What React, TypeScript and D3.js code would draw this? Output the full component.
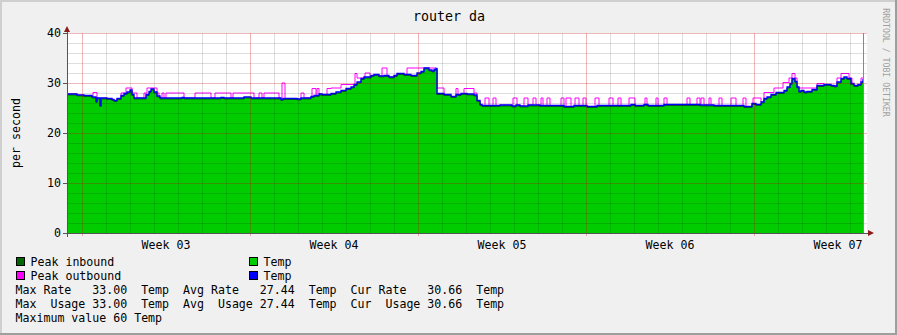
import React from 'react';
import * as d3 from 'd3';

// ---- data (time in hours from left edge of plot; values in "per second") ----
const inHours = [0, 10, 17, 25, 29, 30, 33, 34, 40, 45, 47, 50, 54, 57, 60, 63, 65, 67, 79, 82, 84, 87, 90, 93, 115, 117, 154, 157, 177, 184, 214, 216, 230, 234, 244, 247, 252, 255, 264, 269, 274, 279, 284, 287, 290, 294, 297, 304, 307, 312, 317, 322, 327, 330, 337, 344, 350, 354, 357, 362, 365, 367, 369, 370, 377, 384, 389, 394, 400, 407, 410, 413, 415, 433, 445, 449, 453, 461, 473, 497, 507, 520, 530, 564, 568, 577, 581, 597, 633, 647, 677, 685, 689, 694, 697, 700, 704, 709, 717, 720, 723, 725, 728, 730, 732, 734, 737, 740, 745, 750, 757, 764, 767, 770, 774, 777, 780, 784, 787, 791, 794, 796];
const inVals = [27.8, 27.6, 27.5, 27.2, 26.3, 27.0, 25.5, 27.0, 26.9, 26.7, 26.5, 26.9, 27.5, 27.9, 28.2, 28.6, 27.7, 27.0, 27.7, 28.3, 28.8, 28.2, 27.4, 27.0, 27.1, 27.0, 27.1, 27.0, 27.2, 27.0, 26.7, 26.9, 26.8, 27.0, 27.3, 27.5, 27.8, 27.7, 27.9, 28.2, 28.5, 28.9, 29.2, 29.7, 30.2, 30.9, 31.2, 31.5, 31.7, 31.4, 31.5, 31.2, 31.5, 31.9, 31.7, 31.5, 32.0, 32.3, 33.0, 32.6, 32.4, 32.7, 32.9, 27.9, 27.7, 27.3, 27.7, 27.9, 27.8, 27.6, 26.5, 25.7, 25.5, 25.6, 25.4, 25.6, 25.4, 25.6, 25.5, 25.3, 25.5, 25.3, 25.5, 25.7, 25.5, 25.7, 25.5, 25.7, 25.6, 25.5, 25.3, 25.9, 25.7, 26.2, 26.9, 27.2, 27.7, 28.1, 28.5, 29.2, 29.9, 30.9, 30.3, 29.2, 28.3, 28.5, 28.2, 28.3, 28.7, 29.5, 29.7, 29.5, 29.4, 30.2, 30.9, 31.2, 30.9, 29.9, 29.5, 29.7, 30.2, 30.66];
const endHour = 797;

const peakStart = [26, 54, 59, 65, 77, 80, 90, 95, 99, 128, 148, 166, 192, 197, 215, 234, 245, 250, 260, 264, 274, 288, 290, 298, 315, 340, 369, 389, 397, 407, 418, 426, 446, 457, 466, 474, 480, 494, 499, 508, 516, 528, 542, 551, 562, 578, 589, 597, 620, 630, 634, 642, 652, 664, 676, 686, 697, 707, 716, 722, 725, 728, 730, 750, 770, 774, 782, 794];
const peakEnd = [30, 59, 65, 70, 80, 90, 92, 97, 117, 144, 164, 187, 195, 212, 218, 237, 249, 252, 264, 274, 288, 290, 297, 303, 320, 369, 377, 391, 407, 410, 422, 429, 450, 461, 469, 476, 483, 497, 504, 512, 519, 532, 546, 554, 568, 580, 591, 600, 623, 633, 637, 644, 655, 669, 679, 694, 707, 716, 722, 725, 728, 730, 750, 757, 774, 782, 785, 797];
const peakVal = [28.1, 28.0, 29.0, 28.0, 28.0, 29.0, 28.0, 28.0, 28.0, 28.0, 28.0, 28.0, 28.0, 28.0, 30.0, 28.0, 28.9, 28.9, 28.9, 29.0, 29.7, 31.9, 31.0, 32.0, 33.0, 33.0, 29.0, 28.9, 28.9, 28.0, 27.0, 27.0, 27.0, 27.0, 27.0, 27.0, 27.0, 27.0, 27.0, 27.0, 27.0, 27.0, 27.0, 27.0, 27.0, 27.0, 27.0, 27.0, 27.0, 27.0, 27.0, 27.0, 27.0, 27.0, 27.0, 27.0, 28.1, 29.0, 30.1, 31.0, 31.9, 31.0, 29.0, 29.9, 31.0, 31.9, 31.0, 31.0];

const yTicks = [0, 10, 20, 30, 40];
const weekLabels = ['Week 03', 'Week 04', 'Week 05', 'Week 06', 'Week 07'];
const firstWeekHour = 15;
const hoursPerWeek = 168;
const hoursPerDay = 24;
const totalHours = 800;
const nowHour = 798;

const title = 'router da';
const yLabel = 'per second';
const sideText = 'RRDTOOL / TOBI OETIKER';
const legendItems = [
  { label: 'Peak inbound', color: '#006600', col: 0, row: 0 },
  { label: 'Temp', color: '#00CC00', col: 1, row: 0 },
  { label: 'Peak outbound', color: '#FF00FF', col: 0, row: 1 },
  { label: 'Temp', color: '#0000FF', col: 1, row: 1 },
];
const statLines = [
  'Max Rate   33.00  Temp  Avg Rate   27.44  Temp  Cur Rate   30.66  Temp',
  'Max  Usage 33.00  Temp  Avg  Usage 27.44  Temp  Cur  Usage 30.66  Temp',
  'Maximum value 60 Temp',
];

const W = 897;
const H = 335;
const FONT = '"DejaVu Sans Mono", monospace';

type P = { h: number; v: number };

export default function App() {
  const x = d3.scaleLinear().domain([0, totalHours]).range([67, 867]);
  const y = d3.scaleLinear().domain([0, 40]).range([233, 33]);

  const inSeries: P[] = inHours.map((h, i) => ({ h, v: inVals[i] }));
  inSeries.push({ h: endHour, v: inVals[inVals.length - 1] });

  const avgAt = (h: number) => {
    let v = inVals[0];
    for (let i = 0; i < inHours.length; i++) if (inHours[i] <= h) v = inVals[i];
    return v;
  };
  const bumpAt = (h: number) => {
    for (let i = 0; i < peakStart.length; i++) if (h >= peakStart[i] && h < peakEnd[i]) return peakVal[i];
    return -Infinity;
  };
  const breaks = Array.from(new Set([...inHours, ...peakStart, ...peakEnd]))
    .filter((h) => h < endHour)
    .sort((a, b) => a - b);
  const peakSeries: P[] = breaks.map((h) => ({ h, v: Math.max(avgAt(h), bumpAt(h)) }));
  peakSeries.push({ h: endHour, v: peakSeries[peakSeries.length - 1].v });

  const area = d3
    .area<P>()
    .x((d) => x(d.h))
    .y0(y(0))
    .y1((d) => y(d.v))
    .curve(d3.curveStepAfter);
  const line = d3
    .line<P>()
    .x((d) => x(d.h))
    .y((d) => y(d.v))
    .curve(d3.curveStepAfter);

  const minorY = d3.range(0, 41, 2).filter((v) => v % 10 !== 0);
  const majorY = yTicks.filter((v) => v > 0);
  const dayLines = d3.range(firstWeekHour, totalHours, hoursPerDay).filter((h) => (h - firstWeekHour) % hoursPerWeek !== 0);
  const weekLines = d3.range(firstWeekHour, totalHours, hoursPerWeek);

  return (
    <svg
      width={W}
      height={H}
      style={{ position: 'absolute', left: 0, top: 0 }}
      fontFamily={FONT}
    >
      {/* background with 3D frame */}
      <rect x={0} y={0} width={W} height={H} fill="#F0F0F0" />
      <rect x={0} y={0} width={W} height={2} fill="#CFCFCF" />
      <rect x={0} y={0} width={2} height={H} fill="#CFCFCF" />
      <rect x={0} y={H - 2} width={W} height={2} fill="#9E9E9E" />
      <rect x={W - 2} y={0} width={2} height={H} fill="#9E9E9E" />

      {/* canvas */}
      <rect x={x(0)} y={y(40)} width={x(totalHours) - x(0)} height={y(0) - y(40)} fill="#FFFFFF" />

      {/* data */}
      <path d={line(peakSeries) || ''} fill="none" stroke="#FF00FF" strokeWidth={1} />
      <path d={area(inSeries) || ''} fill="#00CC00" />
      <path d={line(inSeries) || ''} fill="none" stroke="#006600" strokeWidth={1} transform="translate(0,1)" />
      <path d={line(inSeries) || ''} fill="none" stroke="#0000FF" strokeWidth={1.3} />

      {/* grid on top */}
      <g shapeRendering="crispEdges">
        {minorY.map((v) => (
          <line key={'my' + v} x1={x(0)} x2={x(totalHours)} y1={y(v)} y2={y(v)} stroke="rgba(0,0,0,0.13)" />
        ))}
        {dayLines.map((h) => (
          <line key={'dx' + h} x1={x(h)} x2={x(h)} y1={y(40)} y2={y(0)} stroke="rgba(0,0,0,0.13)" />
        ))}
        {majorY.map((v) => (
          <line key={'My' + v} x1={x(0)} x2={x(totalHours)} y1={y(v)} y2={y(v)} stroke="rgba(200,0,0,0.28)" />
        ))}
        {weekLines.map((h) => (
          <line key={'wx' + h} x1={x(h)} x2={x(h)} y1={y(40)} y2={y(0) + 3} stroke="rgba(200,0,0,0.28)" />
        ))}
        <line x1={x(nowHour) - 1.5} x2={x(nowHour) - 1.5} y1={y(40)} y2={y(0)} stroke="#888" />
        {/* axes */}
        <line x1={x(0)} x2={x(0)} y1={y(40) - 4} y2={y(0) + 4} stroke="#555" />
        <line x1={x(0) - 4} x2={x(totalHours) + 2} y1={y(0)} y2={y(0)} stroke="#555" />
        {yTicks.map((v) => (
          <line key={'t' + v} x1={x(0) - 4} x2={x(0)} y1={y(v)} y2={y(v)} stroke="#555" />
        ))}
      </g>
      <polygon
        points={`${x(0) - 3},${y(40) - 1} ${x(0) + 3},${y(40) - 1} ${x(0)},${y(40) - 7}`}
        fill="#8B1A1A"
      />
      <polygon
        points={`${x(totalHours) + 1},${y(0) - 3} ${x(totalHours) + 1},${y(0) + 3} ${x(totalHours) + 7},${y(0)}`}
        fill="#8B1A1A"
      />

      {/* y tick labels */}
      {yTicks.map((v) => (
        <text key={'yl' + v} x={61} y={y(v) + 4} fontSize={11.6} textAnchor="end" fill="#000">
          {v}
        </text>
      ))}
      {/* week labels */}
      {weekLabels.map((w, i) => (
        <text
          key={w}
          x={x(firstWeekHour + hoursPerWeek * i + hoursPerWeek / 2)}
          y={248.5}
          fontSize={11.6}
          textAnchor="middle"
          fill="#000"
        >
          {w}
        </text>
      ))}

      {/* title and labels */}
      <text x={449} y={21} fontSize={13.3} textAnchor="middle" fill="#000">
        {title}
      </text>
      <text transform="translate(20,133) rotate(-90)" fontSize={11.6} textAnchor="middle" fill="#000">
        {yLabel}
      </text>
      <text transform="translate(883,62.5) rotate(90)" fontSize={8.2} textAnchor="middle" fill="#A0A0A0">
        {sideText}
      </text>

      {/* legend */}
      {legendItems.map((it, i) => {
        const bx = it.col === 0 ? 16.5 : 249.5;
        const by = 257.5 + it.row * 14;
        return (
          <g key={'lg' + i}>
            <rect x={bx} y={by} width={8} height={8} fill={it.color} stroke="#000" strokeWidth={1} />
            <text x={bx + 14} y={by + 8} fontSize={11.6} fill="#000">
              {it.label}
            </text>
          </g>
        );
      })}
      {statLines.map((s, i) => (
        <text key={'st' + i} x={15.5} y={293.5 + i * 14} fontSize={11.6} fill="#000" style={{ whiteSpace: 'pre' }} xmlSpace="preserve">
          {s}
        </text>
      ))}
    </svg>
  );
}
